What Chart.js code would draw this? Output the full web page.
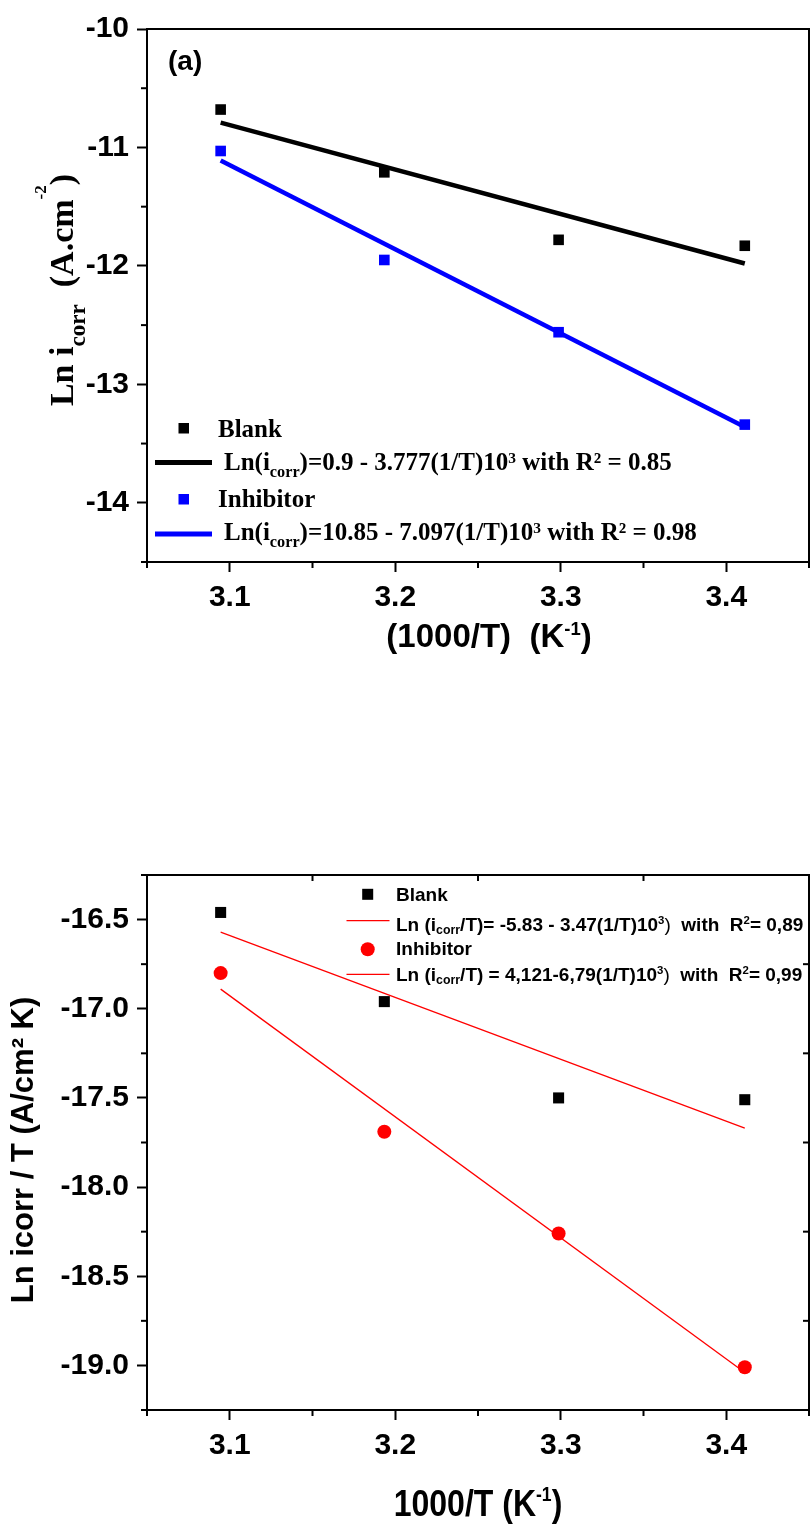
<!DOCTYPE html>
<html>
<head>
<meta charset="utf-8">
<title>Ln icorr vs 1000/T</title>
<script src="https://cdn.jsdelivr.net/npm/chart.js@4.4.1/dist/chart.umd.min.js"></script>
<style>
  body { margin: 0; background: #fff; }
  #wrap { position: relative; width: 811px; height: 1528px; }
  canvas { position: absolute; left: 0; }
</style>
</head>
<body>
<div id="wrap">
  <canvas id="chartA" width="811" height="700" style="top:0"></canvas>
  <canvas id="chartB" width="811" height="768" style="top:760px"></canvas>
</div>
<script>
// 1000/T values (K^-1) for 50, 40, 30 and 20 °C
const xValues = [3.0945, 3.1934, 3.2987, 3.4112];
const fitX = [3.0945, 3.4112];
const xTicks = [3.1, 3.2, 3.3, 3.4];
const xTickLabels = ['3.1', '3.2', '3.3', '3.4'];
const xMinorTicks = [3.05, 3.15, 3.25, 3.35, 3.45];

// (a) Ln icorr
const blankLnI = [-10.68, -11.21, -11.78, -11.83];
const inhibitorLnI = [-11.03, -11.95, -12.56, -13.34];
const blankFitLnI = [-10.79, -11.98];
const inhibitorFitLnI = [-11.11, -13.36];
const yTicksA = [-10, -11, -12, -13, -14];
const yTickLabelsA = ['-10', '-11', '-12', '-13', '-14'];
const yMinorA = [-10.5, -11.5, -12.5, -13.5, -14.5];

// (b) Ln icorr / T
const blankLnIT = [-16.46, -16.96, -17.50, -17.51];
const inhibitorLnIT = [-16.80, -17.69, -18.26, -19.01];
const blankFitLnIT = [-16.57, -17.67];
const inhibitorFitLnIT = [-16.89, -19.04];
const yTicksB = [-16.5, -17.0, -17.5, -18.0, -18.5, -19.0];
const yTickLabelsB = ['-16.5', '-17.0', '-17.5', '-18.0', '-18.5', '-19.0'];
const yMinorB = [-16.25, -16.75, -17.25, -17.75, -18.25, -18.75, -19.25];
const topInnerTicksB = [3.15, 3.25, 3.35];
const rightInnerTicksB = [-16.75, -17.25, -17.75, -18.25, -18.75];

// legend and title texts, split into normal / sub / sup runs
const eqBlankA = [{t: 'Ln(i'}, {t: 'corr', sub: true}, {t: ')=0.9 - 3.777(1/T)10'}, {t: '3', sup: true}, {t: ' with R² = 0.85'}];
const eqInhibitorA = [{t: 'Ln(i'}, {t: 'corr', sub: true}, {t: ')=10.85 - 7.097(1/T)10'}, {t: '3', sup: true}, {t: ' with R² = 0.98'}];
const eqBlankB = [{t: 'Ln (i'}, {t: 'corr', sub: true}, {t: '/T)= -5.83 - 3.47(1/T)10'}, {t: '3', sup: true}, {t: ')', weight: 'normal'}, {t: '  with  R'}, {t: '2', sup: true}, {t: '= 0,89'}];
const eqInhibitorB = [{t: 'Ln (i'}, {t: 'corr', sub: true}, {t: '/T) = 4,121-6,79(1/T)10'}, {t: '3', sup: true}, {t: ')', weight: 'normal'}, {t: '  with  R'}, {t: '2', sup: true}, {t: '= 0,99'}];
const yTitleA = [{t: 'Ln i'}, {t: 'corr', sub: true}, {t: '  (A.cm'}, {t: '-2', sup: true}, {t: ')'}];
const xTitleA = [{t: '(1000/T)  (K'}, {t: '-1', sup: true}, {t: ')'}];
const yTitleB = [{t: 'Ln icorr / T (A/cm² K)'}];
const xTitleB = [{t: '1000/T (K'}, {t: '-1', sup: true}, {t: ')'}];

const sans = "'Liberation Sans', Arial, sans-serif";
const serif = "'Liberation Serif', 'Times New Roman', serif";
const BLUE = '#0000ff';
const RED = '#ff0000';

function points(xs, ys) {
  return xs.map((x, i) => ({x: x, y: ys[i]}));
}

// draws a row of text runs with subscripts / superscripts on one baseline
function drawRich(ctx, parts, x, y, o) {
  const items = parts.map(p => {
    const k = p.sub ? o.subScale : p.sup ? o.supScale : 1;
    const font = `${p.weight || 'bold'} ${o.size * k}px ${o.family}`;
    ctx.font = font;
    const dy = p.sub ? o.subDy * o.size : p.sup ? o.supDy * o.size : 0;
    return {t: p.t, font: font, dy: dy, w: ctx.measureText(p.t).width};
  });
  const total = items.reduce((s, it) => s + it.w, 0);
  let cx = o.align === 'center' ? -total / 2 : 0;
  ctx.save();
  ctx.translate(x, y);
  ctx.scale(1, o.sy || 1);
  ctx.fillStyle = '#000';
  ctx.textAlign = 'left';
  ctx.textBaseline = 'alphabetic';
  items.forEach(it => {
    ctx.font = it.font;
    ctx.fillText(it.t, cx, it.dy);
    cx += it.w;
  });
  ctx.restore();
}

function drawRotated(ctx, parts, x, y, o) {
  ctx.save();
  ctx.translate(x, y);
  ctx.rotate(-Math.PI / 2);
  drawRich(ctx, parts, 0, 0, Object.assign({align: 'center'}, o));
  ctx.restore();
}

function line(ctx, x1, y1, x2, y2) {
  ctx.beginPath();
  ctx.moveTo(x1, y1);
  ctx.lineTo(x2, y2);
  ctx.stroke();
}

// frame on top/right plus the short minor ticks
function drawFrame(chart, yMinor, topInner, rightInner) {
  const {ctx, chartArea: a, scales: {x, y}} = chart;
  ctx.save();
  ctx.strokeStyle = '#000';
  ctx.lineWidth = 2;
  line(ctx, a.left - 1, a.top, a.right + 1, a.top);
  line(ctx, a.right, a.top, a.right, a.bottom);
  xMinorTicks.forEach(v => {
    const px = x.getPixelForValue(v);
    line(ctx, px, a.bottom, px, a.bottom + 6);
  });
  yMinor.forEach(v => {
    const py = y.getPixelForValue(v);
    line(ctx, a.left - 6, py, a.left, py);
  });
  (topInner || []).forEach(v => {
    const px = x.getPixelForValue(v);
    line(ctx, px, a.top, px, a.top + 6);
  });
  (rightInner || []).forEach(v => {
    const py = y.getPixelForValue(v);
    line(ctx, a.right - 6, py, a.right, py);
  });
  ctx.restore();
}

function axisOptions(min, max, ticks, labels, fit) {
  return {
    type: 'linear',
    min: min,
    max: max,
    afterBuildTicks: s => { s.ticks = ticks.map(v => ({value: v})); },
    afterFit: s => {
      fit(s);
      s.paddingLeft = 0;
      s.paddingRight = 0;
    },
    ticks: {
      color: '#000',
      padding: 8,
      font: {family: sans, size: 30, weight: 'bold'},
      callback: (v, i) => labels[i]
    },
    grid: {display: true, drawOnChartArea: false, drawTicks: true, tickLength: 10, tickWidth: 2, tickColor: '#000'},
    border: {display: true, color: '#000', width: 2}
  };
}

const decorA = {
  id: 'decorA',
  afterDraw(chart) {
    const ctx = chart.ctx;
    drawFrame(chart, yMinorA);

    // panel letter
    drawRich(ctx, [{t: '(a)'}], 168, 70, {size: 28, family: sans});

    // legend
    ctx.save();
    ctx.fillStyle = '#000';
    ctx.fillRect(178.5, 423, 10.5, 10.5);
    ctx.fillStyle = BLUE;
    ctx.fillRect(178.5, 494, 10.5, 10.5);
    ctx.lineWidth = 5;
    ctx.strokeStyle = '#000';
    line(ctx, 155, 462.5, 212, 462.5);
    ctx.strokeStyle = BLUE;
    line(ctx, 155, 534, 212, 534);
    ctx.restore();
    const lg = {size: 25, family: serif, subScale: 0.65, subDy: 0.27, supScale: 0.62, supDy: -0.3};
    drawRich(ctx, [{t: 'Blank'}], 218, 437, lg);
    drawRich(ctx, eqBlankA, 224, 470, lg);
    drawRich(ctx, [{t: 'Inhibitor'}], 218, 507, lg);
    drawRich(ctx, eqInhibitorA, 224, 540, lg);

    // axis titles
    drawRotated(ctx, yTitleA, 73, 290, {size: 34, family: serif, subScale: 0.68, subDy: 0.35, supScale: 0.5, supDy: -0.78});
    drawRich(ctx, xTitleA, 489, 647, {size: 33, family: sans, align: 'center', supScale: 0.56, supDy: -0.36});
  }
};

const decorB = {
  id: 'decorB',
  afterDraw(chart) {
    const ctx = chart.ctx;
    const off = 760;
    drawFrame(chart, yMinorB, topInnerTicksB, rightInnerTicksB);

    // legend
    ctx.save();
    ctx.fillStyle = '#000';
    ctx.fillRect(362.2, 894.3 - off - 5.5, 11, 11);
    ctx.fillStyle = RED;
    ctx.beginPath();
    ctx.arc(367.7, 949.3 - off, 7, 0, Math.PI * 2);
    ctx.fill();
    ctx.lineWidth = 1.3;
    ctx.strokeStyle = RED;
    line(ctx, 346.5, 920.7 - off, 389.5, 920.7 - off);
    line(ctx, 346.5, 974.3 - off, 389.5, 974.3 - off);
    ctx.restore();
    const lg = {size: 19, family: sans, subScale: 0.65, subDy: 0.18, supScale: 0.6, supDy: -0.36};
    drawRich(ctx, [{t: 'Blank'}], 396, 901 - off, lg);
    drawRich(ctx, eqBlankB, 396, 931 - off, lg);
    drawRich(ctx, [{t: 'Inhibitor'}], 396, 955 - off, lg);
    drawRich(ctx, eqInhibitorB, 396, 981 - off, lg);

    // axis titles
    drawRotated(ctx, yTitleB, 33, 1150 - off, {size: 31, family: sans});
    drawRich(ctx, xTitleB, 478, 1516 - off, {size: 32, family: sans, align: 'center', sy: 1.15, supScale: 0.55, supDy: -0.4});
  }
};

new Chart(document.getElementById('chartA'), {
  type: 'scatter',
  data: {
    datasets: [
      {label: 'Blank', data: points(xValues, blankLnI), pointStyle: 'rect', pointRadius: 7.5, backgroundColor: '#000', borderWidth: 0, order: 0},
      {label: 'Inhibitor', data: points(xValues, inhibitorLnI), pointStyle: 'rect', pointRadius: 7.5, backgroundColor: BLUE, borderWidth: 0, order: 0},
      {label: 'Blank fit', data: points(fitX, blankFitLnI), showLine: true, pointRadius: 0, borderColor: '#000', borderWidth: 4.5, order: 1},
      {label: 'Inhibitor fit', data: points(fitX, inhibitorFitLnI), showLine: true, pointRadius: 0, borderColor: BLUE, borderWidth: 4.5, order: 1}
    ]
  },
  options: {
    responsive: false,
    animation: false,
    devicePixelRatio: 1,
    layout: {autoPadding: false, padding: {top: 29, right: 2, left: 0, bottom: 0}},
    plugins: {legend: {display: false}, tooltip: {enabled: false}},
    scales: {
      x: axisOptions(3.05, 3.45, xTicks, xTickLabels, s => { s.height = 138; }),
      y: axisOptions(-14.5, -10, yTicksA, yTickLabelsA, s => { s.width = 147; })
    }
  },
  plugins: [decorA]
});

new Chart(document.getElementById('chartB'), {
  type: 'scatter',
  data: {
    datasets: [
      {label: 'Blank', data: points(xValues, blankLnIT), pointStyle: 'rect', pointRadius: 7.8, backgroundColor: '#000', borderWidth: 0, order: 0},
      {label: 'Inhibitor', data: points(xValues, inhibitorLnIT), pointStyle: 'circle', pointRadius: 7, backgroundColor: RED, borderWidth: 0, order: 0},
      {label: 'Blank fit', data: points(fitX, blankFitLnIT), showLine: true, pointRadius: 0, borderColor: RED, borderWidth: 1.3, order: 1},
      {label: 'Inhibitor fit', data: points(fitX, inhibitorFitLnIT), showLine: true, pointRadius: 0, borderColor: RED, borderWidth: 1.3, order: 1}
    ]
  },
  options: {
    responsive: false,
    animation: false,
    devicePixelRatio: 1,
    layout: {autoPadding: false, padding: {top: 115, right: 2, left: 0, bottom: 0}},
    plugins: {legend: {display: false}, tooltip: {enabled: false}},
    scales: {
      x: axisOptions(3.05, 3.45, xTicks, xTickLabels, s => { s.height = 118; }),
      y: axisOptions(-19.25, -16.25, yTicksB, yTickLabelsB, s => { s.width = 147; })
    }
  },
  plugins: [decorB]
});
</script>
</body>
</html>
